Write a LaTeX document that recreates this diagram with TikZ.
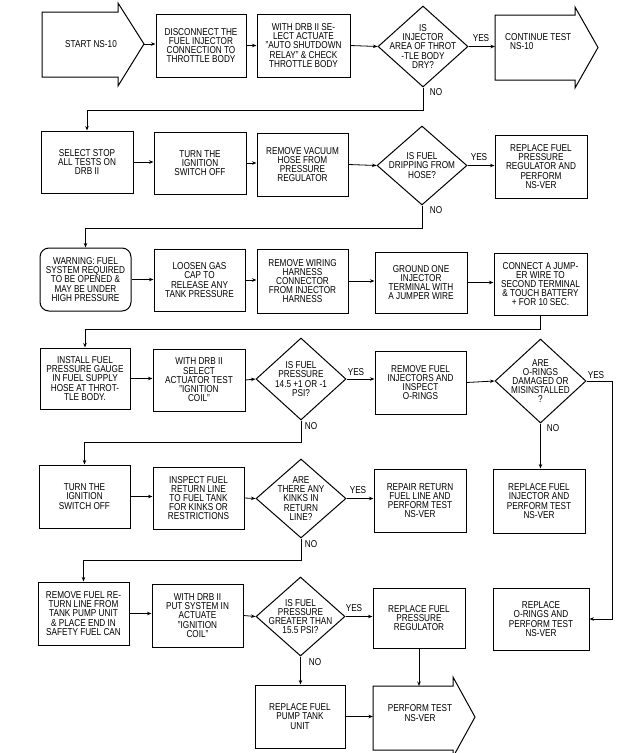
\documentclass[tikz,border=0pt]{standalone}
\usepackage{fontspec}
\setmainfont[FakeStretch=0.82]{Liberation Sans}
\usetikzlibrary{shapes.geometric,arrows.meta}
\newcommand\bxfont{\fontsize{10}{9.2}\selectfont}
\tikzset{
  box/.style={draw, line width=1pt, inner sep=0pt, align=center, font=\bxfont},
  dia/.style={draw, diamond, line width=1pt, inner sep=0pt},
  dtext/.style={align=center, font=\bxfont, inner sep=0pt},
  lbl/.style={font=\bxfont, inner sep=0pt},
  conn/.style={line width=0.8pt, -{Stealth[length=4.5pt,width=3.5pt]}},
  bigarrow/.style={draw, line width=1pt, line join=miter},
}
\newcommand\mybox[7][]{\node[box,#1, minimum width={(#5-#3)*1pt}, minimum height={(#6-#4)*1pt}] (#2) at ({(#3+#5)/2},{(#4+#6)/2}) {#7};}
\newcommand\mydia[6]{\node[dia, minimum width={2*#4*1pt}, minimum height={2*#5*1pt}] (#1) at (#2,#3) {};
  \node[dtext] (#1t) at (#2,#3) {#6};}
\begin{document}
\begin{tikzpicture}[x=1pt,y=-1pt]
\fill[white] (0,0) rectangle (631,753);
\useasboundingbox (0,0) rectangle (631,753);

% ---------- Row 1
\draw[bigarrow] (42,12) -- (118,12) -- (118,3) -- (144,44) -- (118,86) -- (118,77) -- (42,77) -- cycle;
\node[lbl] (startt) at (91,44) {START NS-10};
\coordinate (starttip) at (144,44);
\mybox{b2}{156}{14}{246}{77}{DISCONNECT THE\\FUEL INJECTOR\\CONNECTION TO\\THROTTLE BODY}
\mybox{b3}{257}{14}{350}{77}{WITH DRB II SE-\\LECT ACTUATE\\"AUTO SHUTDOWN\\RELAY" \& CHECK\\THROTTLE BODY}
\mydia{d1}{423}{46.5}{45}{40.5}{IS\\INJECTOR\\AREA OF THROT\\-TLE BODY\\DRY?}
\draw[bigarrow] (495,15) -- (575,15) -- (575,7) -- (598,47.5) -- (575,88) -- (575,80) -- (495,80) -- cycle;
\coordinate (contl) at (495,46.5);
\node[dtext, align=left, anchor=north west] (contt) at (505,33) {CONTINUE TEST\\\hspace*{5pt}NS-10};

\draw[conn] (starttip) -- (starttip -| b2.west);
\draw[conn] (b2.east) -- (b2.east -| b3.west);
\draw[conn] (b3.east) -- (d1.west);
\draw[conn] (d1.east) -- (contl);
\node[lbl] (y1) at (481,38) {YES};

% ---------- Row 2
\mybox{s1}{41}{131}{133}{193}{SELECT STOP\\ALL TESTS ON\\DRB II}
\mybox{t1}{154}{132}{246}{194}{TURN THE\\IGNITION\\SWITCH OFF}
\mybox{r1}{257}{133}{348}{196}{REMOVE VACUUM\\HOSE FROM\\PRESSURE\\REGULATOR}
\mydia{d2}{422}{165.5}{45}{39.5}{IS FUEL\\DRIPPING FROM\\HOSE?}
\mybox{p1}{495}{135}{587}{198}{REPLACE FUEL\\PRESSURE\\REGULATOR AND\\PERFORM\\NS-VER}

\coordinate (n1) at (87,110);
\draw[conn] (d1.south) -- (d1.south |- n1) -- (n1 -| s1.north) -- (s1.north);
\node[lbl] (no1) at (436,92) {NO};
\draw[conn] (s1.east) -- (s1.east -| t1.west);
\draw[conn] (t1.east) -- (t1.east -| r1.west);
\draw[conn] (r1.east) -- (d2.west);
\draw[conn] (d2.east) -- (d2.east -| p1.west);
\node[lbl] (y2) at (479,157) {YES};

% ---------- Row 3
\mybox[rounded corners=9pt]{w}{40}{248}{131}{311}{WARNING: FUEL\\SYSTEM REQUIRED\\TO BE OPENED \&\\MAY BE UNDER\\HIGH PRESSURE}
\mybox{lo}{154}{249}{245}{311}{LOOSEN GAS\\CAP TO\\RELEASE ANY\\TANK PRESSURE}
\mybox{rw}{257}{249}{348}{313}{REMOVE WIRING\\HARNESS\\CONNECTOR\\FROM INJECTOR\\HARNESS}
\mybox{gr}{375}{252}{467}{313}{GROUND ONE\\INJECTOR\\TERMINAL WITH\\A JUMPER WIRE}
\mybox{cj}{494}{253}{587}{315}{CONNECT A JUMP-\\ER WIRE TO\\SECOND TERMINAL\\\& TOUCH BATTERY\\+ FOR 10 SEC.}

\coordinate (n2) at (87,228);
\draw[conn] (d2.south) -- (d2.south |- n2) -- (n2 -| w.north) -- (w.north);
\node[lbl] (no2) at (436,210) {NO};
\draw[conn] (w.east) -- (w.east -| lo.west);
\draw[conn] (lo.east) -- (lo.east -| rw.west);
\draw[conn] (rw.east) -- (rw.east -| gr.west);
\draw[conn] (gr.east) -- (gr.east -| cj.west);

% ---------- Row 4
\mybox{ins}{40}{348}{130}{409}{INSTALL FUEL\\PRESSURE GAUGE\\IN FUEL SUPPLY\\HOSE AT THROT-\\TLE BODY.}
\mybox{wd1}{153}{349}{245}{411}{WITH DRB II\\SELECT\\ACTUATOR TEST\\"IGNITION\\COIL"}
\mydia{d3}{301}{379}{45}{41}{IS FUEL\\PRESSURE\\14.5 +1 OR -1\\PSI?}
\mybox{ri}{375}{351}{466}{414}{REMOVE FUEL\\INJECTORS AND\\INSPECT\\O-RINGS}
\mydia{d4}{540.5}{381}{45.5}{42}{ARE\\O-RINGS\\DAMAGED OR\\MISINSTALLED\\?}

\coordinate (n3) at (87,329);
\draw[conn] (cj.south) -- (cj.south |- n3) -- (n3 -| ins.north) -- (ins.north);
\draw[conn] (ins.east) -- (ins.east -| wd1.west);
\draw[conn] (wd1.east) -- (d3.west);
\draw[conn] (d3.east) -- (d3.east -| ri.west);
\node[lbl] (y3) at (356,372) {YES};
\draw[conn] (ri.east) -- (d4.west);

% ---------- Row 5
\mybox{t2}{39}{465}{130}{528}{TURN THE\\IGNITION\\SWITCH OFF}
\mybox{insp}{153}{467}{244}{529}{INSPECT FUEL\\RETURN LINE\\TO FUEL TANK\\FOR KINKS OR\\RESTRICTIONS}
\mydia{d5}{301}{498.5}{45}{39.5}{ARE\\THERE ANY\\KINKS IN\\RETURN\\LINE?}
\mybox{rep}{374}{469}{466}{532}{REPAIR RETURN\\FUEL LINE AND\\PERFORM TEST\\NS-VER}
\mybox{rj}{493}{469}{585}{533}{REPLACE FUEL\\INJECTOR AND\\PERFORM TEST\\NS-VER}

\coordinate (n4) at (87,442);
\draw[conn] (d3.south) -- (d3.south |- n4) -- (n4 -| t2.north) -- (t2.north);
\node[lbl] (no3) at (311,426) {NO};
\draw[conn] (d4.south) -- (d4.south |- rj.north);
\node[lbl] (no4) at (553,428) {NO};
\draw[conn] (t2.east) -- (t2.east -| insp.west);
\draw[conn] (insp.east) -- (d5.west);
\draw[conn] (d5.east) -- (d5.east -| rep.west);
\node[lbl] (y5) at (358,490) {YES};

% ---------- Row 6
\mybox{rr}{38}{582}{129}{645}{REMOVE FUEL RE-\\TURN LINE FROM\\TANK PUMP UNIT\\\& PLACE END IN\\SAFETY FUEL CAN}
\mybox{wd2}{152}{584}{243}{647}{WITH DRB II\\PUT SYSTEM IN\\ACTUATE\\"IGNITION\\COIL"}
\mydia{d6}{300.5}{616.5}{44.5}{39.5}{IS FUEL\\PRESSURE\\GREATER THAN\\15.5 PSI?}
\mybox{rg}{373}{588}{465}{648}{REPLACE FUEL\\PRESSURE\\REGULATOR}
\mybox{or}{493}{588}{589}{650}{REPLACE\\O-RINGS AND\\PERFORM TEST\\NS-VER}

\coordinate (n5) at (87,560);
\draw[conn] (d5.south) -- (d5.south |- n5) -- (n5 -| rr.north) -- (rr.north);
\node[lbl] (no5) at (311,544) {NO};
\draw[conn] (rr.east) -- (rr.east -| wd2.west);
\draw[conn] (wd2.east) -- (d6.west);
\draw[conn] (d6.east) -- (d6.east -| rg.west);
\node[lbl] (y6) at (354,608) {YES};
\coordinate (rt) at (612,381);
\draw[conn] (d4.east) -- (rt) -- (rt |- or.east) -- (or.east);
\node[lbl] (y4) at (596,375) {YES};

% ---------- Row 7
\mybox{pump}{255}{685}{345}{748}{REPLACE FUEL\\PUMP TANK\\UNIT}
\draw[bigarrow] (373,686) -- (453,686) -- (453,677) -- (475,717) -- (453,757) -- (453,750) -- (373,750) -- cycle;
\node[dtext] (perft) at (420,713) {PERFORM TEST\\NS-VER};
\coordinate (perfL) at (373,716.5);
\coordinate (perfT) at (419,686);
\draw[conn] (d6.south) -- (d6.south |- pump.north);
\node[lbl] (no6) at (315,662) {NO};
\draw[conn] (rg.south) -- (rg.south |- perfT);
\draw[conn] (pump.east) -- (perfL);
\end{tikzpicture}
\end{document}
